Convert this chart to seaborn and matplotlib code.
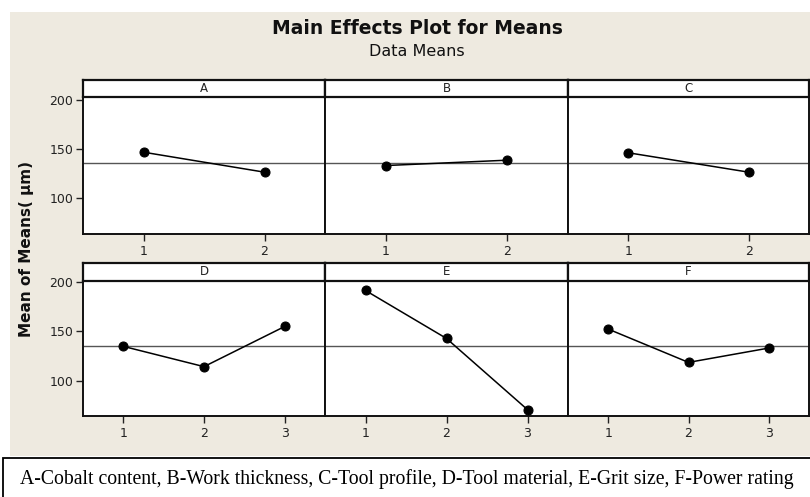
import numpy as np
import pandas as pd
import matplotlib
matplotlib.use("Agg")
import matplotlib.pyplot as plt
import seaborn as sns
from matplotlib.patches import Rectangle

# ---------------- data ----------------
factors = ["A", "B", "C", "D", "E", "F"]
levels_A = [1, 2]
levels_B = [1, 2]
levels_C = [1, 2]
levels_D = [1, 2, 3]
levels_E = [1, 2, 3]
levels_F = [1, 2, 3]
mean_A = [146.5, 126.0]
mean_B = [132.8, 138.3]
mean_C = [145.9, 126.0]
mean_D = [134.9, 114.4, 155.0]
mean_E = [191.4, 142.9, 70.9]
mean_F = [152.4, 118.7, 133.2]
grand_mean = 135.5
yticks = [100, 150, 200]
title = "Main Effects Plot for Means"
subtitle = "Data Means"
ylabel = "Mean of Means( μm)"
footnote = ("A-Cobalt content, B-Work thickness, C-Tool profile, "
            "D-Tool material, E-Grit size, F-Power rating")

levels = {"A": levels_A, "B": levels_B, "C": levels_C,
          "D": levels_D, "E": levels_E, "F": levels_F}
means = {"A": mean_A, "B": mean_B, "C": mean_C,
         "D": mean_D, "E": mean_E, "F": mean_F}
rows_ = []
for f in factors:
    for l, m in zip(levels[f], means[f]):
        rows_.append({"factor": f, "level": l, "mean": m})
df = pd.DataFrame(rows_)

# ---------------- layout ----------------
sns.set_theme(style="white")
plt.rcParams["font.family"] = ["DejaVu Sans"]
W, H = 810, 497
fig = plt.figure(figsize=(W / 100, H / 100), dpi=100)
fig.patch.set_facecolor("white")

def rect(x0, y0, x1, y1):
    return [x0 / W, 1 - y1 / H, (x1 - x0) / W, (y1 - y0) / H]

beige = "#EEEAE0"
fig.add_artist(Rectangle((10 / W, 1 - 456 / H), (W - 10) / W, (456 - 12) / H,
                         transform=fig.transFigure, facecolor=beige,
                         edgecolor="none", zorder=0))
# footnote box
fig.add_artist(Rectangle((3 / W, -0.05), 1.0, (0.05 + 1 - 457.5 / H),
                         transform=fig.transFigure, facecolor="white",
                         edgecolor="black", linewidth=1.3, zorder=1))
fig.text(20 / W, 1 - 479 / H, footnote, ha="left", va="center",
         fontsize=14.2, family="Liberation Serif", color="black")

fig.text(417 / W, 1 - 29 / H, title, ha="center", va="center",
         fontsize=13.5, fontweight="bold", color="#111111")
fig.text(417 / W, 1 - 52 / H, subtitle, ha="center", va="center",
         fontsize=11.5, color="#111111")
fig.text(27 / W, 1 - 249 / H, ylabel, ha="center", va="center",
         rotation=90, fontsize=11, fontweight="bold", color="#111111")

cols = [(83, 325), (325, 568), (568, 809)]
rowspec = [
    {"strip": (79.5, 96.7), "plot": (96.7, 234), "ylim": (62.6, 203.4)},
    {"strip": (262.5, 281), "plot": (281, 415.5), "ylim": (65.0, 201.0)},
]

for i, f in enumerate(factors):
    r, c = divmod(i, 3)
    x0, x1 = cols[c]
    sy0, sy1 = rowspec[r]["strip"]
    py0, py1 = rowspec[r]["plot"]

    ax = fig.add_axes(rect(x0, py0, x1, py1))
    ax.set_facecolor("white")
    sub = df[df["factor"] == f]
    ax.axhline(grand_mean, color="#555555", lw=1.0, zorder=1)
    sns.lineplot(data=sub, x="level", y="mean", ax=ax, color="black",
                 marker="o", markersize=6.5, markeredgecolor="black",
                 linewidth=1.1, zorder=3)
    nlev = len(levels[f])
    ax.set_xlim(0.5, nlev + 0.5)
    ax.set_ylim(*rowspec[r]["ylim"])
    ax.set_xticks(levels[f])
    ax.set_xticklabels([str(v) for v in levels[f]])
    ax.set_xlabel("")
    ax.set_ylabel("")
    ax.tick_params(axis="x", direction="out", length=5, width=1,
                   labelsize=9, pad=3, colors="#222222", bottom=True)
    if c == 0:
        ax.set_yticks(yticks)
        ax.tick_params(axis="y", direction="out", length=5, width=1,
                       labelsize=9, pad=2, colors="#222222", left=True)
    else:
        ax.set_yticks([])
    for s in ax.spines.values():
        s.set_color("#111111")
        s.set_linewidth(1.4)

    sax = fig.add_axes(rect(x0, sy0, x1, sy1))
    sax.set_facecolor("white")
    sax.set_xticks([])
    sax.set_yticks([])
    for s in sax.spines.values():
        s.set_color("#111111")
        s.set_linewidth(1.6)
    sax.text(0.5, 0.5, f, ha="center", va="center", fontsize=8.5,
             color="#222222", transform=sax.transAxes)

fig.savefig("out.png", dpi=100, facecolor="white")
